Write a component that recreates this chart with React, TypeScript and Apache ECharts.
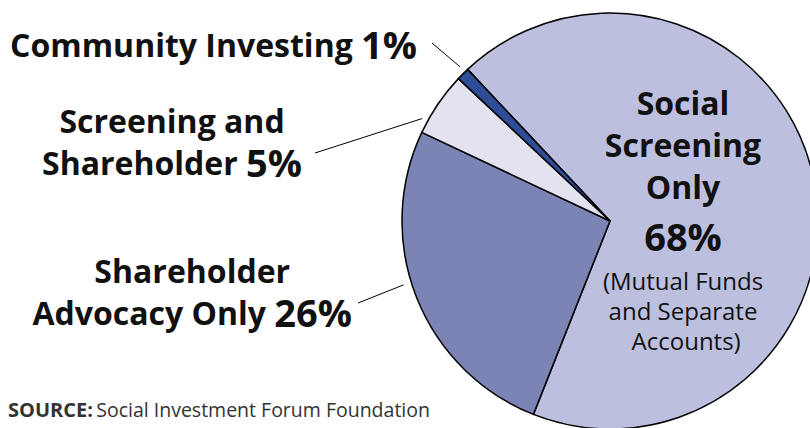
import React, { useEffect, useRef } from "react";
import * as echarts from "echarts";

const categories = [
  "Social Screening Only",
  "Shareholder Advocacy Only",
  "Screening and Shareholder",
  "Community Investing",
];
const values = [68, 26, 5, 1];
const sliceColors = ["#BCC0DE", "#7B84B4", "#E3E3F0", "#2F4C96"];
const sourceLabel = "SOURCE:";
const sourceText = "Social Investment Forum Foundation";

const FONT = "'Open Sans', Lato, sans-serif";
const CENTER: [number, number] = [610, 221];
const RADIUS = 208;

// label placement and leader-line geometry (layout only)
const labelPlacement = [
  { x: 683, y: 218, align: "center", from: null as null | number[], angle: 0, r: 0 },
  { x: 352, y: 291, align: "right", from: [358, 303], angle: 252.8, r: 216 },
  { x: 302, y: 141, align: "right", from: [315, 153], angle: 298.6, r: 214 },
  { x: 417, y: 44, align: "right", from: [432, 43], angle: 315.8, r: 215 },
];

function labelText(i: number, v: number): string {
  const p = `{p|${v}%}`;
  if (i === 0) {
    return [
      "{t|Social}",
      "{t|Screening}",
      "{t|Only}",
      `{q|${v}%}`,
      "{s|(Mutual Funds}",
      "{s|and Separate}",
      "{s| Accounts)}",
    ].join("\n");
  }
  if (i === 1) return `{t|Shareholder}\n{t|Advocacy Only }${p}`;
  if (i === 2) return `{t|Screening and}\n{t|Shareholder }${p}`;
  return `{t|Community Investing }${p}`;
}

export default function App() {
  const ref = useRef<HTMLDivElement>(null);
  useEffect(() => {
    if (!ref.current) return;
    const chart = echarts.init(ref.current, undefined, { renderer: "svg" });
    const rich = {
      t: { fontFamily: FONT, fontWeight: "bold", fontSize: 32, lineHeight: 42, color: "#111", align: "center" },
      p: { fontFamily: FONT, fontWeight: "bold", fontSize: 38, lineHeight: 42, color: "#111", align: "center" },
      q: { fontFamily: FONT, fontWeight: "bold", fontSize: 38, lineHeight: 58, color: "#111", align: "center" },
      s: { fontFamily: FONT, fontSize: 24, lineHeight: 30, color: "#111", align: "center" },
    };
    chart.setOption({
      animation: false,
      backgroundColor: "#ffffff",
      graphic: [
        {
          type: "text",
          left: 8,
          top: 399,
          style: {
            rich: {
              b: { fontFamily: FONT, fontWeight: "bold", fontSize: 20, fill: "#333" },
              r: { fontFamily: FONT, fontSize: 19.5, fill: "#333" },
            },
            text: `{b|${sourceLabel}} {r|${sourceText}}`,
          },
        },
      ],
      series: [
        {
          type: "pie",
          center: CENTER,
          radius: RADIUS,
          startAngle: 133.2,
          clockwise: true,
          avoidLabelOverlap: false,
          itemStyle: { borderColor: "#000", borderWidth: 1.5 },
          labelLine: {
            show: true,
            length: 10,
            length2: 0,
            lineStyle: { color: "#000", width: 1 },
          },
          labelLayout: (params: any) => {
            const l = labelPlacement[params.dataIndex];
            const out: any = { x: l.x, y: l.y, align: l.align, verticalAlign: "middle" };
            if (l.from) {
              const a = (l.angle * Math.PI) / 180;
              const end = [CENTER[0] + l.r * Math.sin(a), CENTER[1] - l.r * Math.cos(a)];
              out.labelLinePoints = [end, l.from, l.from];
            }
            return out;
          },
          data: categories.map((name, i) => ({
            name,
            value: values[i],
            itemStyle: { color: sliceColors[i] },
            label: {
              show: true,
              position: i === 0 ? "inside" : "outside",
              formatter: labelText(i, values[i]),
              rich,
            },
            labelLine: { show: i !== 0 },
          })),
        },
      ],
    });
    return () => chart.dispose();
  }, []);
  return (
    <div
      ref={ref}
      style={{ position: "fixed", left: 0, top: 0, width: 810, height: 428 }}
    />
  );
}
